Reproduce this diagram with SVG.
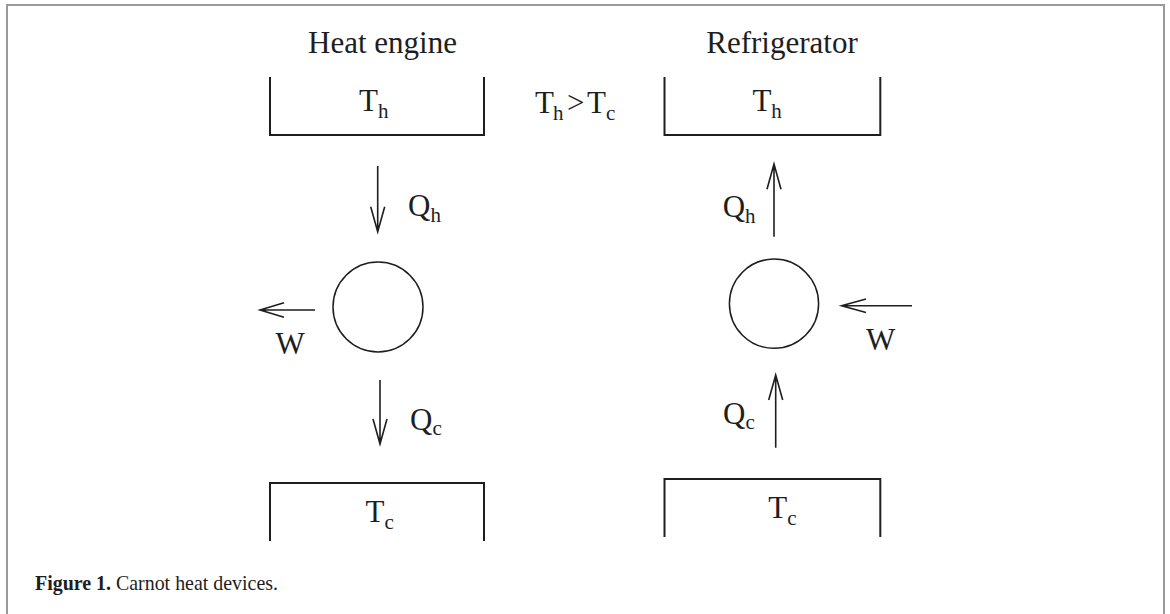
<svg xmlns="http://www.w3.org/2000/svg" width="1170" height="614" viewBox="0 0 1170 614">
<style>
text{font-family:"Liberation Serif","Times New Roman",serif;fill:#1e1e1e}
.lbl{font-size:31px}
.sub{font-size:21px}
.box{fill:none;stroke:#1e1e1e;stroke-width:2}
.dev{fill:none;stroke:#1e1e1e;stroke-width:1.5}
.ar{fill:none;stroke:#1e1e1e;stroke-width:1.6}
.cap{font-size:22px}
</style>
<rect x="7" y="5" width="1157" height="640" fill="#fff" stroke="#9a9a9a" stroke-width="2"/>
<g id="title-engine"><text class="lbl" x="382.5" y="53" text-anchor="middle">Heat engine</text></g>
<g id="title-fridge"><text class="lbl" x="782" y="53" text-anchor="middle">Refrigerator</text></g>
<g id="condition"><text class="lbl" x="535" y="113">T<tspan class="sub" x="553" y="120">h</tspan><tspan x="567" y="113">&gt;</tspan><tspan x="587" y="113">T</tspan><tspan class="sub" x="606" y="120">c</tspan></text></g>
<g id="engine-hot">
<path class="box" d="M270,77V135H484V77"/>
<text class="lbl" x="359" y="110.5">T<tspan class="sub" dy="7">h</tspan></text>
</g>
<g id="engine">
<circle class="dev" cx="378" cy="307" r="45"/>
</g>
<g id="engine-cold">
<path class="box" d="M270,541V483H484V541"/>
<text class="lbl" x="365.5" y="521.5">T<tspan class="sub" dy="7">c</tspan></text>
</g>
<g id="fridge-hot">
<path class="box" d="M664.5,77V135H880.3V77"/>
<text class="lbl" x="752.4" y="110.5">T<tspan class="sub" dy="7">h</tspan></text>
</g>
<g id="fridge">
<circle class="dev" cx="774" cy="303.7" r="44.6"/>
</g>
<g id="fridge-cold">
<path class="box" d="M664.5,537V479H880.3V537"/>
<text class="lbl" x="768.2" y="518">T<tspan class="sub" dy="7">c</tspan></text>
</g>
<g id="connectors">
<path class="ar" d="M377.7,166V231.7M370.7,206.7L377.7,231.7L384.7,206.7"/>
<path class="ar" d="M380,380V444M373,419L380,444L387,419"/>
<path class="ar" d="M315,310H260M284,302.7L260,310L284,317.3"/>
<path class="ar" d="M774,236.7V164M767,189.3L774,164L781,189.3"/>
<path class="ar" d="M775.7,447.7V375M768.7,400L775.7,375L782.7,400"/>
<path class="ar" d="M912,305.7H841.6M866,299L841.6,305.7L866,312.4"/>
<text class="lbl" x="408" y="215.5">Q<tspan class="sub" dy="6">h</tspan></text>
<text class="lbl" x="410" y="430">Q<tspan class="sub" dy="5">c</tspan></text>
<text class="lbl" x="275.5" y="354">W</text>
<text class="lbl" x="722.7" y="216.7">Q<tspan class="sub" dy="6">h</tspan></text>
<text class="lbl" x="723" y="424">Q<tspan class="sub" dy="5">c</tspan></text>
<text class="lbl" x="866" y="350">W</text>
</g>
<g id="caption"><text class="cap" x="35" y="590" textLength="243" lengthAdjust="spacingAndGlyphs"><tspan font-weight="bold">Figure 1.</tspan> Carnot heat devices.</text></g>
</svg>
